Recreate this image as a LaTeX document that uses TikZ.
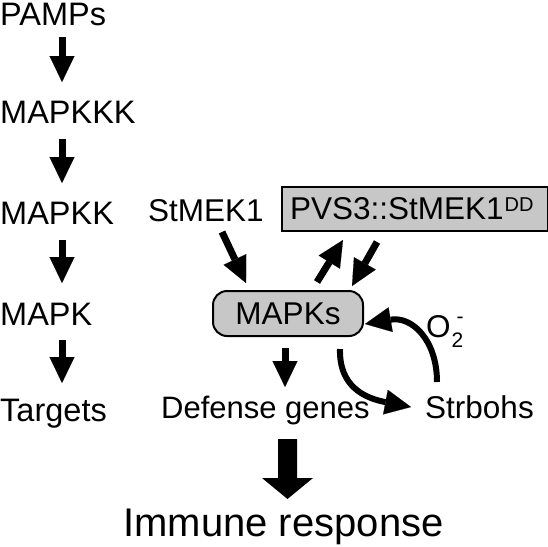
\documentclass[tikz,border=0pt]{standalone}
\usepackage{fontspec}
\setmainfont{Liberation Sans}
\usetikzlibrary{arrows.meta}
\begin{document}
\begin{tikzpicture}[x=1pt,y=-1pt,
  lbl/.style={inner sep=0pt, anchor=base west, font=\fontsize{31.5}{36}\selectfont},
  lbll/.style={inner sep=0pt, anchor=base west, font=\fontsize{32.5}{36}\selectfont},
  boxgray/.style={draw=black, line width=2pt, fill=black!22, font=\fontsize{31.5}{36}\selectfont},
  arr/.style={line width=7pt, -{Triangle[width=25pt,length=26pt,line width=0.1pt]}},
  carr/.style={line width=6pt, -{Triangle[width=25pt,length=26pt,line width=0.1pt]}}]
\useasboundingbox (0,0) rectangle (548,546);
% left column
\node[lbll] (pamps) at (0,25) {PAMPs};
\node[lbll] (mapkkk) at (0,123) {MAPKKK};
\node[lbll] (mapkk) at (0,224) {MAPKK};
\node[lbll] (mapk) at (0,325) {MAPK};
\node[lbll] (targets) at (0,421) {Targets};
\coordinate (l1a) at (62,37); \coordinate (l1b) at (62,82);
\coordinate (l2a) at (62,139); \coordinate (l2b) at (62,183);
\coordinate (l3a) at (62,240); \coordinate (l3b) at (62,283);
\coordinate (l4a) at (62,340); \coordinate (l4b) at (62,383);
\draw[arr] (l1a) -- (l1b);
\draw[arr] (l2a) -- (l2b);
\draw[arr] (l3a) -- (l3b);
\draw[arr] (l4a) -- (l4b);
% right part
\node[lbl] (stmek) at (148,221) {StMEK1};
\node[boxgray, anchor=west, inner xsep=8pt, inner ysep=0pt, text width=250pt, align=left, minimum height=44pt] (pvs) at (281,209)
  {PVS3::StMEK1\raisebox{8pt}{\fontsize{20}{20}\selectfont\kern1pt DD}};
\node[boxgray, rounded corners=14pt, minimum width=150pt, minimum height=45pt, inner sep=0pt] (mapks) at (288,313.5) {MAPKs};
\node[lbl, font=\fontsize{31}{36}\selectfont] (defense) at (161,418) {Defense genes};
\node[lbl] (strbohs) at (425,418) {Strbohs};
\node[lbl] (o2) at (426,337) {O\rlap{\raisebox{-10pt}{\fontsize{21}{21}\selectfont\kern1pt 2}}\raisebox{14pt}{\fontsize{21}{21}\selectfont\kern6pt -}};
\node[inner sep=0pt, anchor=base, font=\fontsize{40}{44}\selectfont] (immune) at (283.5,536) {Immune response};
\coordinate (s1) at (222,232); \coordinate (s2) at (246,283);
\coordinate (u1) at (317,282); \coordinate (u2) at (343,240);
\coordinate (d1) at (377,242); \coordinate (d2) at (352,286);
\coordinate (m1) at (285,348); \coordinate (m2) at (285,387);
\draw[arr] (s1) -- (s2);
\draw[arr] (u1) -- (u2);
\draw[arr] (d1) -- (d2);
\draw[arr] (m1) -- (m2);
\coordinate (c1a) at (340,349); \coordinate (c1b) at (411,407);
\draw[carr] (c1a) .. controls (339,386) and (364,398) .. (c1b);
\coordinate (c2a) at (437,382); \coordinate (c2b) at (365,324);
\draw[carr] (c2a) .. controls (437,340) and (412,316) .. (c2b);
% big arrow
\fill[black] (278,439) -- (297,439) -- (297,478) -- (313,478) -- (287.5,499) -- (262,478) -- (278,478) -- cycle;
\end{tikzpicture}
\end{document}
